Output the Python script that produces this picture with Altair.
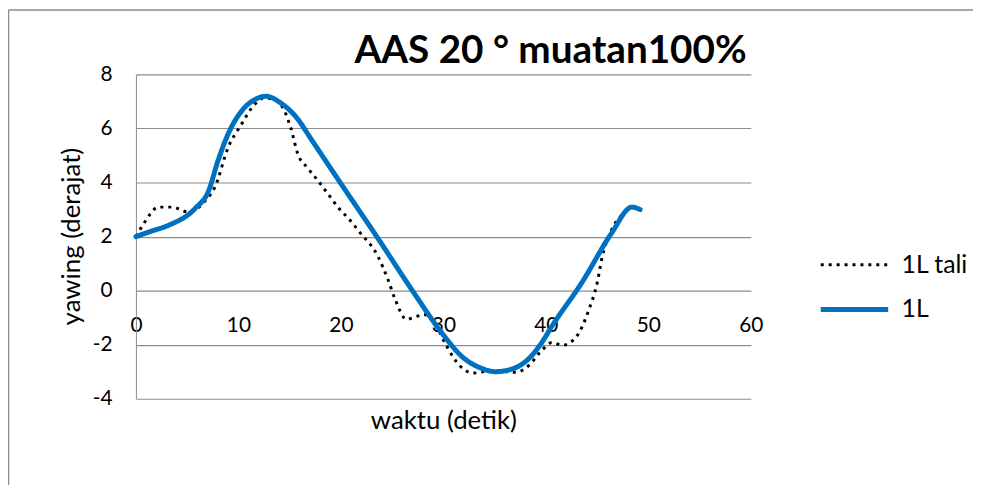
import altair as alt
import pandas as pd

# Series "1L tali" (dotted black)
tali_x = [0, 0.8, 2.2, 3.5, 5.1, 6.8, 7.7, 9.0, 10.3, 11.6, 12.5, 13.2, 14.1, 15.1, 15.8, 16.7,
          17.7, 18.7, 19.9, 20.6, 21.9, 23.6, 24.6, 25.3, 26.4, 27.4, 28.1, 29.3, 30.3, 31.6,
          32.9, 34.8, 37.1, 38.3, 39.7, 40.6, 41.6, 42.9, 44.2, 45.0, 45.5, 46.4, 47.4, 48.4]
tali_y = [2.0, 2.5, 3.09, 3.09, 2.91, 3.34, 3.83, 5.3, 6.16, 6.9, 7.13, 7.1, 6.9, 6.03, 5.05, 4.56,
          4.1, 3.6, 3.0, 2.73, 2.13, 1.28, 0.40, -0.33, -1.06, -0.95, -0.88, -1.31, -2.04, -2.78,
          -3.05, -2.96, -3.02, -2.78, -2.17, -1.92, -2.02, -1.74, -0.70, 0.28, 1.26, 2.24, 2.79, 3.1]

# Series "1L" (solid blue)
l1_x = [0, 1.5, 3.2, 5.8, 7.1, 8.0, 9.0, 10.3, 11.6, 12.7, 14.1, 15.8, 17.0, 20.0, 23.5, 27.1,
        29.7, 31.9, 33.5, 35.1, 36.7, 38.3, 39.5, 40.6, 43.5, 46.4, 48.4, 49.2]
l1_y = [2.0, 2.2, 2.42, 3.05, 3.7, 4.8, 5.8, 6.64, 7.07, 7.19, 6.95, 6.34, 5.66, 3.96, 2.0, -0.07,
        -1.49, -2.47, -2.84, -3.0, -2.9, -2.53, -1.98, -1.31, 0.29, 2.12, 3.09, 3.0]

series_names = ["1L tali", "1L"]
title_text = "AAS 20 ° muatan100%"
x_title = "waktu (detik)"
y_title = "yawing (derajat)"
x_ticks = [0, 10, 20, 30, 40, 50, 60]
y_ticks = [-4, -2, 0, 2, 4, 6, 8]

df = pd.concat([
    pd.DataFrame({"x": tali_x, "y": tali_y, "series": series_names[0], "o": range(len(tali_x))}),
    pd.DataFrame({"x": l1_x, "y": l1_y, "series": series_names[1], "o": range(len(l1_x))}),
])

FONT = "Lato"


def leg():
    return alt.Legend(title=None, orient="none", legendX=688, legendY=172,
                      symbolType="stroke", symbolSize=4624, labelFontSize=25,
                      labelFont=FONT, labelOffset=11, rowPadding=5, clipHeight=40,
                      labelColor="#000000")


enc = dict(
    x=alt.X("x:Q", scale=alt.Scale(domain=[0, 60], nice=False),
            axis=alt.Axis(values=x_ticks, title=x_title, offset=-109, domain=False, ticks=False,
                          tickSize=0, labelPadding=35, labelBaseline="middle", grid=False,
                          titleY=131, titleBaseline="middle", titleFontWeight="normal",
                          labelFlush=False, labelExpr="'' + datum.value")),
    y=alt.Y("y:Q", scale=alt.Scale(domain=[-4, 8], nice=False),
            axis=alt.Axis(values=y_ticks, title=y_title, domain=True, domainColor="#8c8c8c",
                          ticks=False, tickSize=0, labelPadding=24, grid=True,
                          gridColor="#8c8c8c", gridWidth=1.2,
                          titleX=-65, titleY=163, titleAngle=-90, titleAlign="center",
                          titleBaseline="middle", titleFontWeight="normal",
                          labelExpr="'' + datum.value")),
    color=alt.Color("series:N", scale=alt.Scale(domain=series_names, range=["#000000", "#0070C0"]),
                    legend=leg()),
    strokeDash=alt.StrokeDash("series:N", scale=alt.Scale(domain=series_names, range=[[3, 5], [1, 0]]),
                              legend=leg()),
    strokeWidth=alt.StrokeWidth("series:N", scale=alt.Scale(domain=series_names, range=[3, 5]),
                                legend=leg()),
    order="o:Q",
)

base = alt.Chart(df)
tali_line = base.transform_filter(alt.datum.series == series_names[0]).mark_line(
    interpolate="monotone", strokeCap="butt").encode(**enc)
l1_line = base.transform_filter(alt.datum.series == series_names[1]).mark_line(
    interpolate="monotone", strokeCap="round").encode(**enc)

border = alt.Chart(alt.Data(values=[{"a": 1}])).mark_rule(color="#8a8a8a", strokeWidth=1.5, clip=False).encode(
    x=alt.value(-128.5), y=alt.value(-65), y2=alt.value(430)
)
border_top = alt.Chart(alt.Data(values=[{"a": 1}])).mark_rule(color="#8a8a8a", strokeWidth=1.5, clip=False).encode(
    x=alt.value(-128.5), x2=alt.value(860), y=alt.value(-65)
)

chart = alt.layer(border, border_top, tali_line, l1_line).properties(
    width=620, height=327,
    autosize=alt.AutoSizeParams(type="none"),
    padding={"left": 129, "top": 65, "right": 224, "bottom": 85},
    background="white",
    title=alt.TitleParams(title_text, font=FONT, fontSize=39, fontWeight="bold", color="#000000",
                          anchor="middle", dx=108, dy=66),
).configure_view(stroke=None).configure_axis(
    labelFont=FONT, labelFontSize=21, labelColor="#000000",
    titleFont=FONT, titleFontSize=26, titleColor="#000000",
)

chart.save("out.html", embed_options={"renderer": "svg", "actions": False})
